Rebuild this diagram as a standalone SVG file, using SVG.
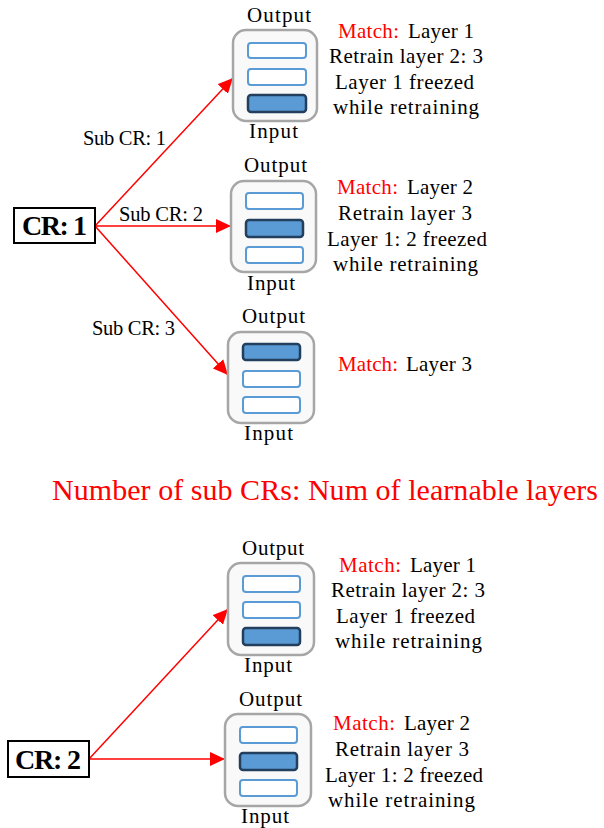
<svg xmlns="http://www.w3.org/2000/svg" width="604" height="828" viewBox="0 0 604 828">
<defs>
<style>
.t{font-family:"Liberation Serif","Times New Roman",serif;font-size:21px;fill:#000}
.s{font-family:"Liberation Serif","Times New Roman",serif;font-size:20.5px;fill:#000}
.r{fill:#ff0000}
.cr{font-family:"Liberation Serif","Times New Roman",serif;font-size:28px;font-weight:bold;fill:#000}
.title{font-family:"Liberation Serif","Times New Roman",serif;font-size:30px;fill:#ff0000}
.box{fill:#f9f9f9;stroke:#a6a6a6;stroke-width:2.5}
.ly{fill:#ffffff;stroke:#5b9bd5;stroke-width:2}
.hl{fill:#5b9bd5;stroke:#223f5e;stroke-width:2.5}
.crbox{fill:#ffffff;stroke:#000;stroke-width:2}
.arr{stroke:#ff0000;stroke-width:1.5;fill:none;marker-end:url(#ah)}
</style>
<marker id="ah" markerUnits="userSpaceOnUse" markerWidth="16" markerHeight="14" refX="15" refY="7" orient="auto">
<path d="M0,0 L15,7 L0,14 Z" fill="#ff0000"/>
</marker>
</defs>
<rect width="604" height="828" fill="#ffffff"/>

<g id="connectors">
<line class="arr" x1="95" y1="226" x2="233" y2="78"/>
<line class="arr" x1="95" y1="226" x2="231" y2="226"/>
<line class="arr" x1="95" y1="226" x2="228" y2="375"/>
<line class="arr" x1="89" y1="759" x2="228" y2="609"/>
<line class="arr" x1="89" y1="759" x2="225" y2="759"/>
<text class="s" x="83" y="145" textLength="83">Sub CR: 1</text>
<text class="s" x="119" y="221" textLength="84">Sub CR: 2</text>
<text class="s" x="92" y="335" textLength="83">Sub CR: 3</text>
</g>

<g id="cr1">
<rect class="crbox" x="14" y="208" width="81" height="35"/>
<text class="cr" x="22" y="235" textLength="65">CR: 1</text>
</g>

<g id="cr2">
<rect class="crbox" x="8" y="741" width="81" height="36"/>
<text class="cr" x="15" y="769" textLength="66">CR: 2</text>
</g>

<g id="net1">
<text class="t" x="247" y="22" textLength="64">Output</text>
<rect class="box" x="233" y="30" width="84" height="91" rx="13"/>
<rect class="ly" x="248" y="43" width="58" height="15" rx="3"/>
<rect class="ly" x="248" y="69" width="58" height="16" rx="3"/>
<rect class="hl" x="248" y="95" width="58" height="17" rx="3"/>
<text class="t" x="249" y="138" textLength="49">Input</text>
</g>

<g id="net2">
<text class="t" x="244" y="172" textLength="63">Output</text>
<rect class="box" x="231" y="181" width="85" height="91" rx="13"/>
<rect class="ly" x="246" y="193" width="57" height="16" rx="3"/>
<rect class="hl" x="246" y="220" width="57" height="17" rx="3"/>
<rect class="ly" x="246" y="247" width="57" height="16" rx="3"/>
<text class="t" x="247" y="290" textLength="48">Input</text>
</g>

<g id="net3">
<text class="t" x="242" y="323" textLength="63">Output</text>
<rect class="box" x="228" y="332" width="86" height="91" rx="13"/>
<rect class="hl" x="243" y="344" width="57" height="16" rx="3"/>
<rect class="ly" x="243" y="371" width="57" height="16" rx="3"/>
<rect class="ly" x="243" y="397" width="57" height="16" rx="3"/>
<text class="t" x="244" y="440" textLength="49">Input</text>
</g>

<g id="net4">
<text class="t" x="242" y="555" textLength="62">Output</text>
<rect class="box" x="228" y="563" width="86" height="92" rx="13"/>
<rect class="ly" x="243" y="576" width="57" height="16" rx="3"/>
<rect class="ly" x="243" y="602" width="57" height="16" rx="3"/>
<rect class="hl" x="243" y="628" width="57" height="17" rx="3"/>
<text class="t" x="244" y="672" textLength="48">Input</text>
</g>

<g id="net5">
<text class="t" x="239" y="706" textLength="63">Output</text>
<rect class="box" x="225" y="714" width="86" height="92" rx="13"/>
<rect class="ly" x="240" y="727" width="57" height="16" rx="3"/>
<rect class="hl" x="240" y="753" width="57" height="17" rx="3"/>
<rect class="ly" x="240" y="780" width="57" height="16" rx="3"/>
<text class="t" x="241" y="823" textLength="48">Input</text>
</g>

<g id="desc1">
<text class="t" y="38"><tspan class="r" x="338" textLength="61">Match:</tspan><tspan x="408" textLength="66">Layer 1</tspan></text>
<text class="t" x="329" y="63" textLength="154">Retrain layer 2: 3</text>
<text class="t" x="335" y="89" textLength="139">Layer 1 freezed</text>
<text class="t" x="333" y="114" textLength="146">while retraining</text>
</g>

<g id="desc2">
<text class="t" y="194"><tspan class="r" x="337" textLength="61">Match:</tspan><tspan x="407" textLength="66">Layer 2</tspan></text>
<text class="t" x="338" y="220" textLength="134">Retrain layer 3</text>
<text class="t" x="327" y="246" textLength="160">Layer 1: 2 freezed</text>
<text class="t" x="333" y="271" textLength="145">while retraining</text>
</g>

<g id="desc3">
<text class="t" y="371"><tspan class="r" x="338" textLength="60">Match:</tspan><tspan x="406" textLength="66">Layer 3</tspan></text>
</g>

<g id="title">
<text class="title" x="52" y="500" textLength="546">Number of sub CRs: Num of learnable layers</text>
</g>

<g id="desc4">
<text class="t" y="572"><tspan class="r" x="339" textLength="62">Match:</tspan><tspan x="410" textLength="66">Layer 1</tspan></text>
<text class="t" x="331" y="597" textLength="154">Retrain layer 2: 3</text>
<text class="t" x="336" y="623" textLength="139">Layer 1 freezed</text>
<text class="t" x="335" y="648" textLength="147">while retraining</text>
</g>

<g id="desc5">
<text class="t" y="730"><tspan class="r" x="333" textLength="62">Match:</tspan><tspan x="404" textLength="66">Layer 2</tspan></text>
<text class="t" x="335" y="756" textLength="134">Retrain layer 3</text>
<text class="t" x="325" y="782" textLength="158">Layer 1: 2 freezed</text>
<text class="t" x="328" y="807" textLength="147">while retraining</text>
</g>
</svg>
